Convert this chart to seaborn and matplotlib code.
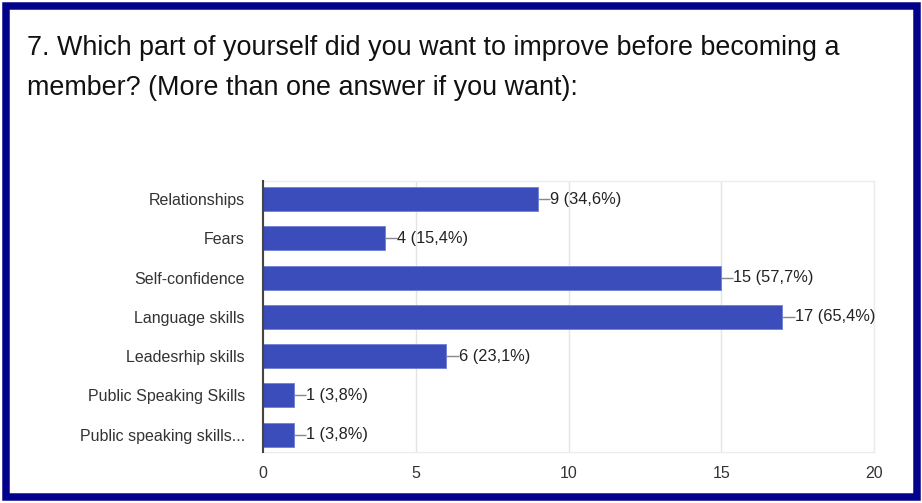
import matplotlib
matplotlib.use("Agg")
import matplotlib.pyplot as plt
from matplotlib.patches import Rectangle
import seaborn as sns
import pandas as pd

categories = [
    "Relationships",
    "Fears",
    "Self-confidence",
    "Language skills",
    "Leadesrhip skills",
    "Public Speaking Skills",
    "Public speaking skills...",
]
counts = [9, 4, 15, 17, 6, 1, 1]
percents = ["34,6%", "15,4%", "57,7%", "65,4%", "23,1%", "3,8%", "3,8%"]
x_ticks = [0, 5, 10, 15, 20]
title_lines = [
    "7. Which part of yourself did you want to improve before becoming a",
    "member? (More than one answer if you want):",
]

df = pd.DataFrame({"category": categories, "count": counts})

sns.set_theme(style="white")
plt.rcParams["font.family"] = ["Liberation Sans", "DejaVu Sans"]

W, H = 922, 503
fig = plt.figure(figsize=(W / 100, H / 100), dpi=100)
fig.patch.set_facecolor("white")

# navy frame around the card
fig.patches.append(Rectangle((5.5 / W, 6.0 / H), (W - 11) / W, (H - 12) / H,
                             transform=fig.transFigure, fill=False,
                             edgecolor="#02028a", linewidth=5.4, zorder=10))

for y_px, line in zip([55, 95], title_lines):
    fig.text(27 / W, 1 - y_px / H, line, ha="left", va="baseline",
             fontsize=19.4, color="#111111")

ax = fig.add_axes([263 / W, 1 - 452 / H, (874 - 263) / W, (452 - 181) / H])
sns.barplot(data=df, x="count", y="category", orient="h", color="#3a4dba",
            saturation=1, width=0.61, ax=ax, zorder=2)
for p in ax.patches:
    p.set_edgecolor("#6f7fd6")
    p.set_linewidth(0.6)

ax.set_xlim(0, 20)
ax.set_ylim(6.44, -0.46)
ax.set_xticks(x_ticks)
ax.set_xticklabels([str(t) for t in x_ticks])
ax.set_xlabel("")
ax.set_ylabel("")
ax.grid(axis="x", color="#e4e4e4", linewidth=1, zorder=0)
ax.grid(axis="y", visible=False)
ax.tick_params(axis="both", length=0, labelsize=11.5, labelcolor="#333333")
ax.tick_params(axis="x", pad=10)
ax.tick_params(axis="y", pad=13)

for side in ["top", "right", "bottom"]:
    ax.spines[side].set_visible(True)
    ax.spines[side].set_color("#ececec")
    ax.spines[side].set_linewidth(1)
ax.spines["left"].set_color("#444444")
ax.spines["left"].set_linewidth(1.5)
ax.spines["left"].set_zorder(5)

# value labels with a short leader line
lead = 0.4
for i, (c, pct) in enumerate(zip(counts, percents)):
    ax.plot([c, c + lead], [i, i], color="#888888", linewidth=1, zorder=3,
            solid_capstyle="butt")
    ax.text(c + lead, i, f"{c} ({pct})", ha="left", va="center",
            fontsize=11.8, color="#222222")

fig.savefig("out.png", dpi=100, facecolor="white")
